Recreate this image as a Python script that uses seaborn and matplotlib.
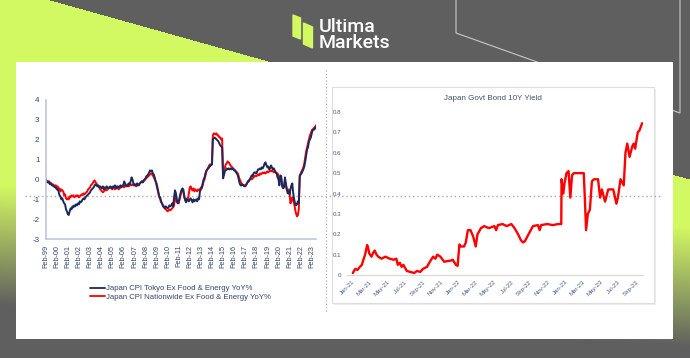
import numpy as np
import pandas as pd
import seaborn as sns
import matplotlib.pyplot as plt
import matplotlib.dates as mdates
from matplotlib.patches import Rectangle, Polygon
from matplotlib.lines import Line2D

W, H = 690, 358

# Left chart: monthly core-core CPI YoY %, Feb-99 .. Jul-23
tokyo = [
    0.0, -0.1, -0.15, -0.1, -0.2, -0.25, -0.2, -0.3, -0.3, -0.35, -0.4,
    -0.4, -0.5, -0.5, -0.6, -0.8, -0.85, -1.0, -0.95, -1.1, -1.2, -1.25, -1.5,
    -1.6, -1.75, -1.78, -1.6, -1.45, -1.5, -1.35, -1.4, -1.3, -1.35, -1.25, -1.3,
    -1.2, -1.25, -1.1, -1.15, -1.1, -1.0, -0.95, -1.0, -0.9, -0.85, -0.8, -0.75,
    -0.7, -0.65, -0.55, -0.5, -0.45, -0.4, -0.3, -0.25, -0.3, -0.35, -0.3, -0.4,
    -0.35, -0.4, -0.45, -0.35, -0.5, -0.4, -0.45, -0.35, -0.4, -0.45, -0.4, -0.35,
    -0.4, -0.45, -0.35, -0.4, -0.3, -0.4, -0.45, -0.35, -0.4, -0.35, -0.3, -0.4,
    -0.35, -0.3, -0.1, -0.2, -0.3, -0.35, -0.3, -0.2, -0.25, -0.1, 0.1, 0.0,
    -0.2, -0.3, -0.25, -0.3, -0.2, -0.3, -0.25, -0.2, -0.15, -0.1, -0.15, -0.05,
    0.0, 0.05, 0.15, 0.2, 0.25, 0.35, 0.45, 0.4, 0.45, 0.3, 0.25, 0.1,
    -0.1, -0.2, -0.4, -0.6, -0.85, -0.9, -1.1, -1.2, -1.35, -1.4, -1.45, -1.35,
    -1.4, -1.45, -1.4, -1.3, -1.35, -1.3, -1.2, -1.35, -0.9, -0.55, -0.7, -1.0,
    -1.2, -1.1, -0.9, -0.7, -0.55, -0.45, -0.5, -0.8, -1.05, -1.15, -1.0, -1.05,
    -1.1, -1.0, -0.95, -1.05, -1.15, -1.0, -1.1, -1.05, -1.0, -1.1, -0.95, -1.0,
    -0.6, -0.5, -0.4, -0.2, 0.0, 0.1, 0.3, 0.45, 0.5, 0.55, 0.6, 0.7,
    0.7, 0.75, 2.0, 2.05, 2.1, 2.05, 2.0, 1.95, 1.9, 1.8, 1.7, 1.65,
    1.6, 0.05, 0.2, 0.4, 0.45, 0.55, 0.5, 0.55, 0.5, 0.55, 0.5, 0.55,
    0.5, 0.45, 0.45, 0.35, 0.3, 0.2, 0.0, -0.2, -0.3, -0.3, -0.25, -0.3,
    -0.35, -0.3, -0.25, -0.2, -0.1, -0.1, 0.0, 0.1, 0.2, 0.15, 0.3, 0.35,
    0.35, 0.3, 0.4, 0.5, 0.5, 0.55, 0.5, 0.6, 0.55, 0.65, 0.8, 0.85,
    0.7, 0.6, 0.65, 0.5, 0.55, 0.7, 0.6, 0.5, 0.55, 0.45, 0.35, 0.3,
    0.1, 0.0, -0.3, 0.2, 0.15, -0.3, -0.45, -0.4, 0.1, -0.2, -0.5, -0.7,
    -0.6, -0.75, -0.5, -0.3, -0.2, -0.7, -1.0, -1.2, -1.3, -1.25, -1.1, -1.2,
    0.15, 0.25, 0.3, 0.4, 0.5, 0.65, 0.9, 1.2, 1.5, 1.6, 1.9, 2.0,
    2.1, 2.3, 2.45, 2.5, 2.5, 2.6, 2.65,
]
nationwide = [
    0.0, -0.1, -0.1, -0.15, -0.1, -0.2, -0.2, -0.3, -0.25, -0.35, -0.3,
    -0.3, -0.4, -0.35, -0.5, -0.45, -0.6, -0.5, -0.55, -0.6, -0.8, -0.75, -0.95,
    -1.0, -0.95, -1.0, -0.85, -0.9, -0.8, -0.85, -0.8, -0.9, -0.85, -0.8, -0.85,
    -0.8, -0.9, -0.85, -0.8, -0.75, -0.8, -0.7, -0.75, -0.7, -0.65, -0.6, -0.5,
    -0.45, -0.4, -0.3, -0.25, -0.2, -0.1, -0.05, -0.15, -0.2, -0.3, -0.35, -0.4,
    -0.5, -0.55, -0.6, -0.65, -0.6, -0.55, -0.5, -0.55, -0.5, -0.45, -0.4, -0.45,
    -0.4, -0.5, -0.45, -0.4, -0.5, -0.45, -0.35, -0.4, -0.5, -0.45, -0.4, -0.35,
    -0.3, -0.35, -0.4, -0.3, -0.35, -0.3, -0.25, -0.35, -0.3, -0.25, -0.3, -0.25,
    -0.3, -0.25, -0.3, -0.35, -0.3, -0.25, -0.3, -0.2, -0.15, -0.1, -0.15, -0.1,
    -0.05, 0.0, 0.1, 0.1, 0.15, 0.2, 0.25, 0.3, 0.25, 0.2, 0.1, 0.0,
    -0.1, -0.3, -0.5, -0.7, -0.9, -1.0, -1.15, -1.2, -1.3, -1.35, -1.45, -1.5,
    -1.55, -1.6, -1.55, -1.5, -1.55, -1.5, -1.45, -1.4, -1.3, -0.8, -1.0, -1.15,
    -1.1, -1.2, -1.0, -0.8, -0.6, -0.5, -0.6, -0.9, -1.0, -1.05, -0.95, -1.0,
    -0.7, -0.4, -0.35, -0.5, -0.55, -0.45, -0.6, -0.5, -0.55, -0.6, -0.5, -0.55,
    -0.5, -0.4, -0.45, -0.3, -0.1, 0.0, 0.2, 0.4, 0.5, 0.6, 0.7, 0.75,
    0.75, 0.8, 2.2, 2.3, 2.3, 2.25, 2.3, 2.2, 2.2, 2.1, 2.1, 2.0,
    2.05, 0.3, 0.45, 0.6, 0.75, 0.8, 0.9, 0.85, 0.8, 0.7, 0.65, 0.6,
    0.55, 0.5, 0.45, 0.4, 0.35, 0.3, 0.15, 0.0, -0.1, -0.2, -0.25, -0.3,
    -0.3, -0.35, -0.3, -0.2, -0.1, -0.05, 0.0, 0.05, 0.0, 0.05, 0.1, 0.15,
    0.2, 0.15, 0.2, 0.25, 0.2, 0.3, 0.25, 0.3, 0.35, 0.3, 0.35, 0.3,
    0.35, 0.4, 0.35, 0.4, 0.45, 0.4, 0.45, 0.4, 0.35, 0.4, 0.35, 0.3,
    0.3, 0.2, -0.1, 0.1, 0.0, -0.35, -0.4, -0.35, -0.1, -0.3, -0.5, -0.6,
    -0.5, -0.7, -1.2, -1.1, -0.9, -1.0, -1.2, -1.5, -1.7, -1.85, -1.8, -1.5,
    0.2, 0.3, 0.4, 0.5, 0.6, 0.8, 1.1, 1.4, 1.6, 1.8, 2.0, 2.2,
    2.3, 2.45, 2.5, 2.55, 2.6, 2.65, 2.72,
]
cpi_labels = ["Japan CPI Tokyo Ex Food & Energy YoY%",
              "Japan CPI Nationwide Ex Food & Energy YoY%"]
cpi_yticks = [-3, -2, -1, 0, 1, 2, 3, 4]

# Right chart: Japan govt bond 10Y yield (%)
jgb_dates = [
    "2021-01-04", "2021-01-12", "2021-01-20", "2021-01-28", "2021-02-04", "2021-02-08",
    "2021-02-15", "2021-02-22", "2021-02-26", "2021-03-01", "2021-03-09", "2021-03-15",
    "2021-03-20", "2021-03-26", "2021-04-01", "2021-04-12", "2021-04-26", "2021-05-10",
    "2021-05-24", "2021-06-02", "2021-06-07", "2021-06-14", "2021-06-20", "2021-06-26",
    "2021-07-08", "2021-07-20", "2021-08-02", "2021-08-12", "2021-08-23", "2021-09-01",
    "2021-09-15", "2021-09-27", "2021-10-06", "2021-10-14", "2021-10-20", "2021-10-31",
    "2021-11-13", "2021-11-30", "2021-12-05", "2021-12-12", "2021-12-23", "2021-12-29",
    "2022-01-04", "2022-01-09", "2022-01-20", "2022-01-26", "2022-02-02", "2022-02-11",
    "2022-02-20", "2022-03-01", "2022-03-07", "2022-03-19", "2022-03-30", "2022-04-15",
    "2022-05-04", "2022-05-10", "2022-05-16", "2022-06-01", "2022-06-15", "2022-07-01",
    "2022-07-12", "2022-07-24", "2022-08-03", "2022-08-10", "2022-08-16", "2022-08-29",
    "2022-09-13", "2022-09-30", "2022-10-06", "2022-10-11", "2022-11-01", "2022-11-20",
    "2022-12-08", "2022-12-19", "2022-12-20", "2022-12-26", "2022-12-30", "2023-01-06",
    "2023-01-13", "2023-01-19", "2023-01-25", "2023-01-31", "2023-02-15", "2023-03-06",
    "2023-03-10", "2023-03-14", "2023-03-20", "2023-03-27", "2023-04-03", "2023-04-10",
    "2023-04-24", "2023-05-01", "2023-05-07", "2023-05-18", "2023-05-29", "2023-06-15",
    "2023-06-26", "2023-07-01", "2023-07-10", "2023-07-21", "2023-07-27", "2023-08-02",
    "2023-08-10", "2023-08-19", "2023-08-24", "2023-08-29", "2023-09-07", "2023-09-13",
    "2023-09-22",
]
jgb_yield = [
    0.01, 0.03, 0.025, 0.04, 0.05, 0.07,
    0.10, 0.147, 0.13, 0.106, 0.09, 0.11,
    0.12, 0.10, 0.09, 0.08, 0.09, 0.08,
    0.075, 0.08, 0.05, 0.06, 0.04, 0.05,
    0.02, 0.015, 0.01, 0.02, 0.015, 0.03,
    0.04, 0.07, 0.09, 0.08, 0.10, 0.09,
    0.065, 0.07, 0.07, 0.075, 0.05, 0.045,
    0.15, 0.14, 0.14, 0.16, 0.22, 0.22,
    0.19, 0.14, 0.20, 0.23, 0.24, 0.23,
    0.24, 0.22, 0.245, 0.25, 0.24, 0.25,
    0.23, 0.20, 0.17, 0.16, 0.165, 0.20,
    0.24, 0.245, 0.22, 0.245, 0.25, 0.245,
    0.25, 0.25, 0.47, 0.40, 0.45, 0.50,
    0.51, 0.38, 0.49, 0.50, 0.50, 0.50,
    0.37, 0.22, 0.30, 0.32, 0.46, 0.47,
    0.47, 0.38, 0.42, 0.36, 0.42, 0.42,
    0.35, 0.38, 0.47, 0.44, 0.60, 0.645,
    0.58, 0.63, 0.645, 0.62, 0.70, 0.71,
    0.745,
]
jgb_yticks = [0, 0.1, 0.2, 0.3, 0.4, 0.5, 0.6, 0.7, 0.8]
jgb_yticklabels = ["0", "0.1", "0.2", "0.3", "0.4", "0.5", "0.6", "0.7", "0.8"]

NAVY = "#1b2a5c"
RED = "#ff0000"
LIME = np.array([211, 249, 98]) / 255
GREY = np.array([95, 95, 95]) / 255
TXT = "#34446f"


def px_rect(x0, y0, x1, y1):
    # pixel box (top-left origin) -> figure fraction rect
    return [x0 / W, 1 - y1 / H, (x1 - x0) / W, (y1 - y0) / H]


def draw_background(fig):
    bg = fig.add_axes([0, 0, 1, 1])
    yy, xx = np.mgrid[0:H, 0:W]
    lime_zone = yy > 0.28 * (xx - 50)
    # fade lime into grey further down, a bit later on the right side
    t = np.clip((yy - (185 + 0.06 * xx)) / 120, 0, 1)[..., None]
    img = np.where(lime_zone[..., None], LIME * (1 - t) + GREY * t, GREY)
    bg.imshow(img, extent=(0, W, H, 0), aspect="auto", zorder=0)
    bg.set_xlim(0, W)
    bg.set_ylim(H, 0)
    bg.axis("off")

    # outline lines top right
    bg.plot([456, 456, 680, 680], [0, 33, 113, 0], color="#c9c9c9", lw=0.8, zorder=1)

    # logo
    bg.add_patch(Polygon([(293, 15), (300.5, 18), (300.5, 39), (293, 36)],
                         closed=True, color="#d3f862", zorder=2))
    bg.add_patch(Polygon([(303.5, 23), (312.5, 27), (312.5, 48), (303.5, 44)],
                         closed=True, color="#d3f862", zorder=2))
    bg.text(319, 31.5, "Ultima", color="white", fontsize=14, family="Roboto",
            weight="medium", va="baseline", ha="left", zorder=2)
    bg.text(319, 48, "Markets", color="white", fontsize=14, family="Roboto",
            weight="medium", va="baseline", ha="left", zorder=2)

    # white panel
    bg.add_patch(Rectangle((16, 62), 657, 277, facecolor="white", edgecolor="none", zorder=3))
    # right chart frame
    bg.add_patch(Rectangle((333.5, 88.5), 322, 216, facecolor="#eeeeee", edgecolor="none", zorder=3))
    bg.add_patch(Rectangle((332, 87), 322, 216, facecolor="white", edgecolor="#dddddd",
                           lw=0.8, zorder=3))
    # dotted guides
    bg.plot([25, 660], [195.7, 195.7], color="#aaaaaa", lw=1.0, ls=(0, (1, 2)), zorder=4)
    bg.plot([326, 326], [70, 313], color="#aaaaaa", lw=0.8, ls=(0, (1, 2)), zorder=4)

    bg.text(493, 99, "Japan Govt Bond 10Y Yield", color="#44546a", fontsize=5.8,
            family="Liberation Sans", ha="center", va="center", zorder=4)
    return bg


def plot_cpi(fig):
    ax = fig.add_axes(px_rect(45.7, 99.5, 316.3, 239.3))
    ax.set_facecolor("none")
    cpi_dates = pd.date_range("1999-02-01", periods=len(tokyo), freq="MS")
    df = pd.DataFrame({"date": cpi_dates, "tokyo": tokyo, "nationwide": nationwide})
    sns.lineplot(data=df, x="date", y="nationwide", ax=ax, color=RED, lw=1.4)
    sns.lineplot(data=df, x="date", y="tokyo", ax=ax, color=NAVY, lw=1.4)
    ax.set_xlim(cpi_dates[0], cpi_dates[-1])
    ax.set_ylim(-3, 4)
    ax.set_yticks(cpi_yticks)
    ax.set_xticks(pd.date_range("1999-02-01", "2023-02-01", freq="12MS"))
    ax.xaxis.set_major_formatter(mdates.DateFormatter("%b-%y"))
    ax.tick_params(axis="x", rotation=90, labelsize=5.2, colors="#b8c4d6",
                   labelcolor=TXT, length=2.5, width=0.8, pad=1.5)
    ax.tick_params(axis="y", labelsize=5.8, colors="#b8c4d6", labelcolor=TXT,
                   length=2.5, width=0.8, pad=2)
    for lab in ax.get_xticklabels():
        lab.set_family("Liberation Sans")
    for lab in ax.get_yticklabels():
        lab.set_family("Liberation Sans")
    ax.set_xlabel("")
    ax.set_ylabel("")
    sns.despine(ax=ax)
    ax.spines["left"].set_color("#b8c4d6")
    ax.spines["bottom"].set_color("#b8c4d6")
    ax.spines["left"].set_linewidth(1.1)
    ax.spines["bottom"].set_linewidth(1.1)

    handles = [Line2D([], [], color=NAVY, lw=1.3), Line2D([], [], color=RED, lw=1.3)]
    fig.legend(handles, cpi_labels, loc="upper left", bbox_to_anchor=(86 / W, 1 - 281 / H),
               frameon=False, handlelength=2.0, handletextpad=0.05,
               labelspacing=0.15, borderpad=0, labelcolor=TXT,
               prop={"family": "Liberation Sans", "size": 5.6})


def plot_jgb(fig):
    ax = fig.add_axes(px_rect(347, 112, 643, 275))
    ax.set_facecolor("none")
    df = pd.DataFrame({"date": pd.to_datetime(jgb_dates), "yield": jgb_yield})
    sns.lineplot(data=df, x="date", y="yield", ax=ax, color=RED, lw=1.7)
    ax.set_xlim(pd.Timestamp("2020-12-15"), pd.Timestamp("2023-09-25"))
    ax.set_ylim(0, 0.8)
    ax.set_yticks(jgb_yticks)
    ax.set_yticklabels(jgb_yticklabels)
    ax.set_xticks(pd.date_range("2021-01-01", "2023-09-01", freq="2MS"))
    ax.xaxis.set_major_formatter(mdates.DateFormatter("%b-%y"))
    ax.tick_params(axis="both", length=0, labelsize=4.4, labelcolor="#4b5a8c")
    ax.tick_params(axis="y", pad=4)
    ax.tick_params(axis="x", pad=3)
    for lab in ax.get_xticklabels():
        lab.set_rotation(45)
        lab.set_ha("right")
        lab.set_rotation_mode("anchor")
        lab.set_family("Liberation Sans")
    for lab in ax.get_yticklabels():
        lab.set_family("Liberation Sans")
    ax.set_xlabel("")
    ax.set_ylabel("")
    sns.despine(ax=ax, left=True)
    ax.spines["bottom"].set_color("#d9d9d9")
    ax.spines["bottom"].set_linewidth(0.8)


def main():
    sns.set_theme(style="white")
    plt.rcParams["font.family"] = ["Liberation Sans", "DejaVu Sans"]
    plt.rcParams["axes.unicode_minus"] = False
    fig = plt.figure(figsize=(W / 100, H / 100), dpi=100)
    draw_background(fig)
    plot_cpi(fig)
    plot_jgb(fig)
    fig.savefig("out.png", dpi=100)


if __name__ == "__main__":
    main()
